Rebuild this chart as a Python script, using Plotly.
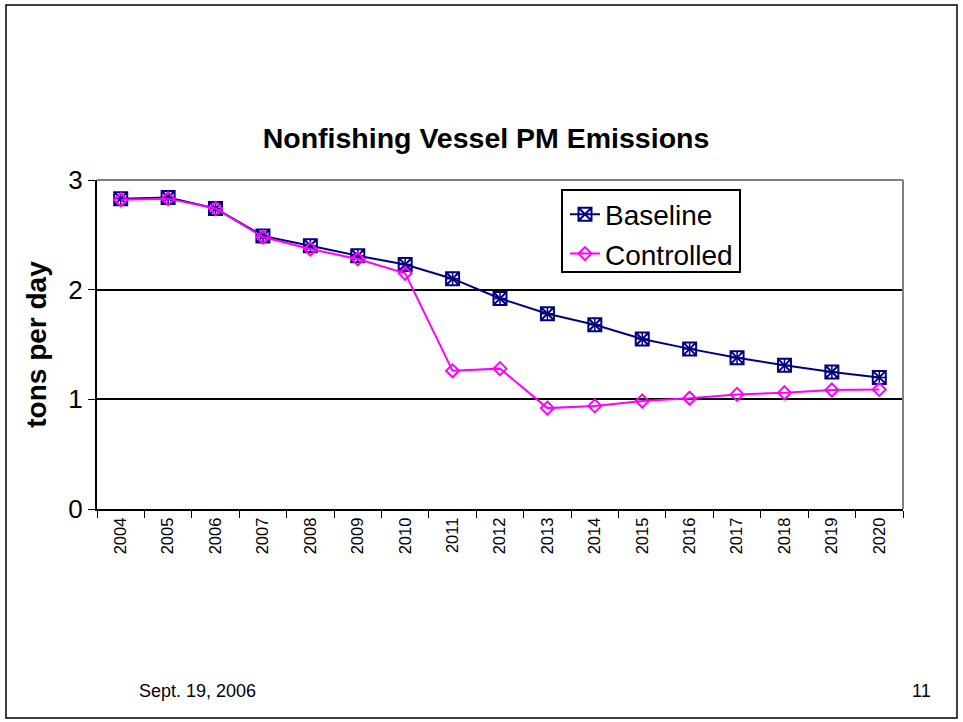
import plotly.graph_objects as go

years = [str(y) for y in range(2004, 2021)]
baseline = [2.83, 2.84, 2.74, 2.49, 2.40, 2.31, 2.23, 2.10, 1.92, 1.78, 1.68, 1.55, 1.46, 1.38, 1.31, 1.25, 1.20]
controlled = [2.82, 2.83, 2.74, 2.48, 2.37, 2.28, 2.15, 1.26, 1.28, 0.92, 0.94, 0.985, 1.01, 1.045, 1.06, 1.085, 1.09]

navy = "#000080"
magenta = "#FF00FF"

fig = go.Figure()
fig.add_trace(go.Scatter(
    x=years, y=baseline, name="Baseline", mode="lines+markers",
    line=dict(color=navy, width=2),
    marker=dict(symbol="square-x-open", size=13, color=navy, line=dict(width=2, color=navy)),
))
fig.add_trace(go.Scatter(
    x=years, y=baseline, showlegend=False, mode="markers", hoverinfo="skip",
    marker=dict(symbol="cross-thin-open", size=10, color=navy, line=dict(width=1.5, color=navy)),
))
fig.add_trace(go.Scatter(
    x=years, y=controlled, name="Controlled", mode="lines+markers",
    line=dict(color=magenta, width=2),
    marker=dict(symbol="diamond-open", size=10, color=magenta, line=dict(width=2, color=magenta)),
))

# plot area: x 97-903, y 180-509
L, R, T, B = 97, 60, 180, 213
pw, ph = 963 - L - R, 722 - T - B

def px(x):
    return (x - L) / pw

def py(y):
    return (722 - B - y) / ph

fig.update_layout(
    width=963, height=722,
    margin=dict(l=L, r=R, t=T, b=B),
    paper_bgcolor="white", plot_bgcolor="white",
    font=dict(family="Arial, Liberation Sans, sans-serif", color="black"),
    title=dict(text="<b>Nonfishing Vessel PM Emissions</b>", font=dict(size=28.5),
               x=px(486), xanchor="center", xref="paper", y=1 - 138 / 722, yanchor="middle"),
    showlegend=True,
    legend=dict(x=px(565), y=py(189.5), xanchor="left", yanchor="top",
                borderwidth=0, bgcolor="rgba(0,0,0,0)",
                font=dict(size=28), tracegroupgap=0, itemwidth=30),
    xaxis=dict(type="category", tickangle=-90, tickfont=dict(size=16.5),
               ticks="outside", ticklen=7, tickcolor="black", tickson="boundaries",
               showline=True, linecolor="black", linewidth=2, showgrid=False,
               range=[-0.5, 16.5]),
    yaxis=dict(range=[0, 3], dtick=1, tickfont=dict(size=26),
               ticks="outside", ticklen=7, tickcolor="black",
               showline=True, linecolor="black", linewidth=2,
               showgrid=True, gridcolor="black", gridwidth=1.5,
               title=dict(text="<b>tons per day</b>", font=dict(size=28), standoff=14),
               zeroline=False),
)

# plot area top/right gray border
fig.add_shape(type="line", xref="paper", yref="paper", x0=0, x1=1, y0=1, y1=1,
              line=dict(color="#808080", width=2))
fig.add_shape(type="line", xref="paper", yref="paper", x0=1, x1=1, y0=0, y1=1,
              line=dict(color="#808080", width=2))
# legend box
fig.add_shape(type="rect", xref="paper", yref="paper",
              x0=px(562), x1=px(740), y0=py(272), y1=py(190),
              line=dict(color="black", width=2), fillcolor="white", layer="below")
# outer slide frame
fig.add_shape(type="rect", xref="paper", yref="paper",
              x0=px(6), x1=px(957), y0=py(718), y1=py(5),
              line=dict(color="black", width=1.5), layer="below")

fig.add_annotation(text="Sept. 19, 2006", xref="paper", yref="paper",
                   x=px(137), y=py(691), xanchor="left", yanchor="middle",
                   showarrow=False, font=dict(size=18, family="Liberation Sans Narrow, Arial Narrow, Arial"))
fig.add_annotation(text="11", xref="paper", yref="paper",
                   x=px(933), y=py(691), xanchor="right", yanchor="middle",
                   showarrow=False, font=dict(size=18, family="Liberation Sans Narrow, Arial Narrow, Arial"))

fig.write_html("out.html", config={"displayModeBar": False},
               post_script="document.body.style.margin='0';document.body.style.overflow='hidden';")
